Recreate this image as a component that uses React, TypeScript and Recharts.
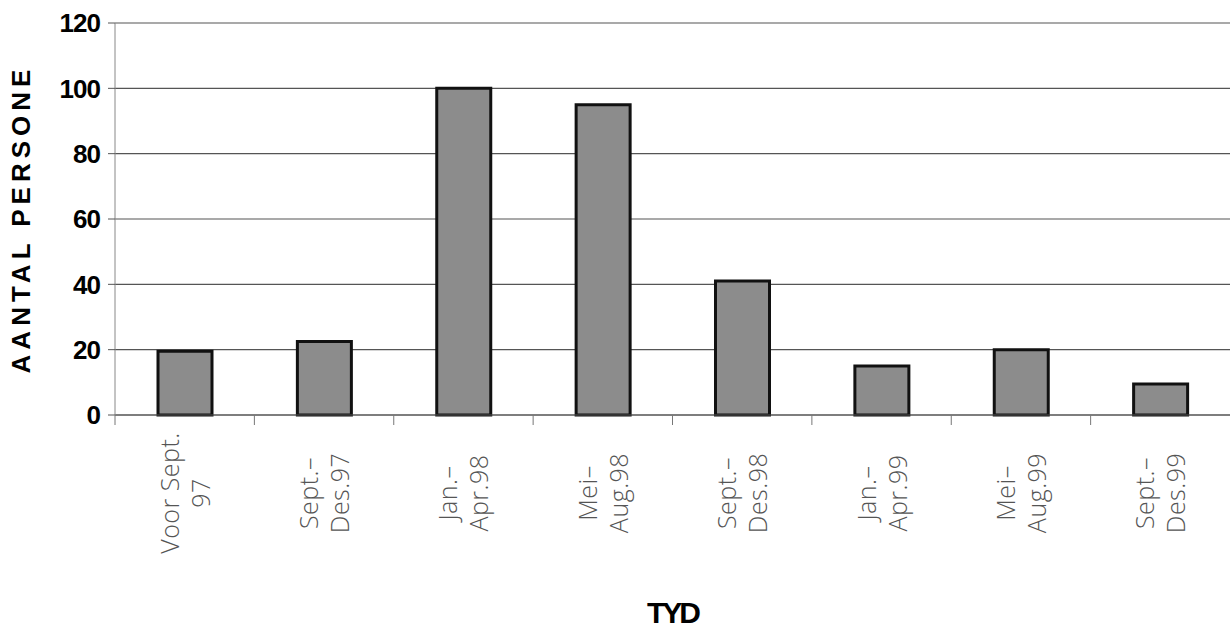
import React from 'react';
import { BarChart, Bar, XAxis, YAxis, CartesianGrid } from 'recharts';

const categories = [
  'Voor Sept.|97',
  'Sept.–|Des.97',
  'Jan.–|Apr.98',
  'Mei–|Aug.98',
  'Sept.–|Des.98',
  'Jan.–|Apr.99',
  'Mei–|Aug.99',
  'Sept.–|Des.99',
];
const values = [19.5, 22.5, 100, 95, 41, 15, 20, 9.5];
const yTicks = [0, 20, 40, 60, 80, 100, 120];

const data = categories.map((c, i) => ({ label: c, value: values[i] }));

const XTick = (props: any) => {
  const { x, y, payload, width } = props;
  const half = payload && payload.offset ? payload.offset : (width || 1115) / categories.length / 2;
  const lines = String(payload.value).split('|');
  return (
    <g>
      <line x1={x - half} x2={x - half} y1={y} y2={y + 10} stroke="#777" strokeWidth={1} />
      <g transform={`translate(${x},${y + 78})`}>
        <text
          transform="rotate(-90)"
          textAnchor="middle"
          fontFamily="'Open Sans', Lato, sans-serif"
          fontWeight={300}
          fontSize={25}
          letterSpacing={0.5}
          fill="#555"
        >
          <tspan x={0} y={-6}>{lines[0]}</tspan>
          <tspan x={0} y={25}>{lines[1]}</tspan>
        </text>
      </g>
    </g>
  );
};

const YTitle = () => (
  <text
    transform="translate(30,219) rotate(-90)"
    textAnchor="middle"
    fontFamily="'Liberation Sans', Arial, sans-serif"
    fontWeight={700}
    fontSize={26}
    letterSpacing={5}
    fill="#000"
  >
    AANTAL PERSONE
  </text>
);

const XTitle = (props: any) => {
  const vb = props.viewBox || { x: 115, width: 1115 };
  return (
    <text
      x={vb.x + vb.width / 2}
      y={623}
      textAnchor="middle"
      fontFamily="'Liberation Sans', Arial, sans-serif"
      fontWeight={700}
      fontSize={30}
      letterSpacing={-3}
      fill="#000"
    >
      TYD
    </text>
  );
};

export default function App() {
  return (
    <div style={{ position: 'absolute', left: 0, top: 0, width: 1230, height: 629, background: '#fff' }}>
      <BarChart
        width={1230}
        height={629}
        data={data}
        margin={{ top: 23, right: 0, bottom: 0, left: 0 }}
      >
        <CartesianGrid vertical={false} stroke="#555" strokeWidth={1.2} />
        <XAxis
          dataKey="label"
          height={214}
          interval={0}
          tickSize={0}
          tickMargin={0}
          tickLine={false}
          axisLine={{ stroke: '#555', strokeWidth: 1.2 }}
          tick={<XTick />}
          label={<XTitle />}
        />
        <YAxis
          width={115}
          domain={[0, 120]}
          ticks={yTicks}
          interval={0}
          tickSize={7}
          tickMargin={8}
          tickLine={{ stroke: '#555' }}
          axisLine={{ stroke: '#888' }}
          tick={{ fill: '#000', fontSize: 26, fontWeight: 700, fontFamily: "'Liberation Sans', Arial, sans-serif", letterSpacing: -1 }}
          label={<YTitle />}
        />
        <Bar dataKey="value" fill="#8c8c8c" stroke="#111" strokeWidth={3} barSize={54} isAnimationActive={false} />
      </BarChart>
    </div>
  );
}
